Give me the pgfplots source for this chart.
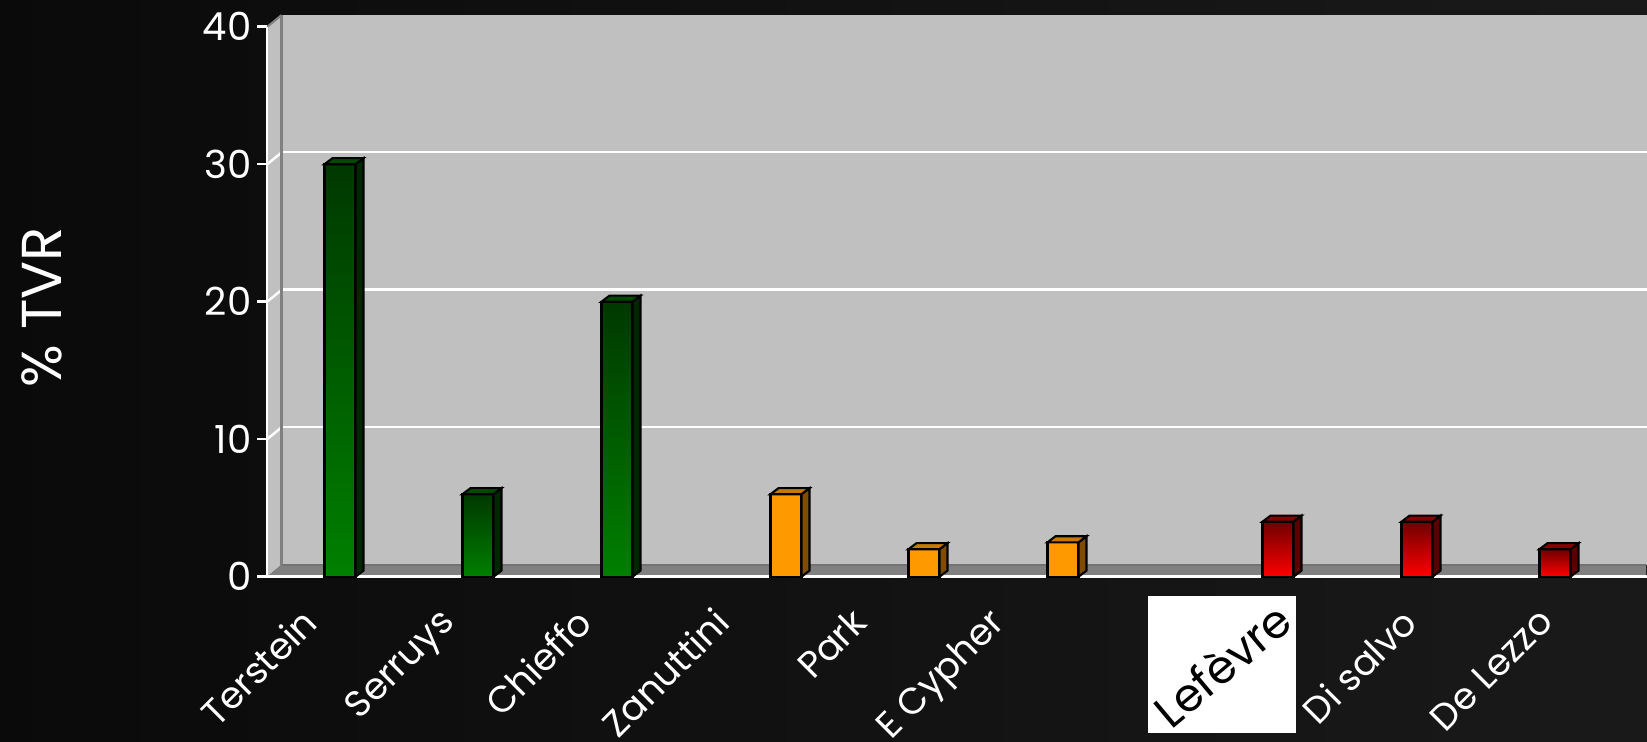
\documentclass[border=0pt]{standalone}
\usepackage{pgfplots}
\pgfplotsset{compat=1.18}
\usepackage{fontspec}
\setmainfont{Poppins}
\definecolor{wall}{HTML}{C0C0C0}
\definecolor{floorc}{HTML}{808080}
\definecolor{gtop}{HTML}{003800}
\definecolor{gbot}{HTML}{008000}
\definecolor{gside}{HTML}{002800}
\definecolor{gcap}{HTML}{004A00}
\definecolor{ofront}{HTML}{FF9900}
\definecolor{oside}{HTML}{7F4C00}
\definecolor{ocap}{HTML}{C87800}
\definecolor{rtop}{HTML}{700000}
\definecolor{rbot}{HTML}{FF0000}
\definecolor{rside}{HTML}{5A0000}
\definecolor{rcap}{HTML}{8A0000}
\pgfplotsset{
  frontbar/.style={ybar, bar width=31, bar shift=0pt, draw=black, line width=0.6pt},
  gbar/.style={frontbar, top color=gtop, bottom color=gbot},
  rbar/.style={frontbar, top color=rtop, bottom color=rbot},
  face/.style={draw=black, line width=0.6pt, fill=#1}
}
\begin{document}
\begin{tikzpicture}
\useasboundingbox (0,0) rectangle (16.47cm,7.41cm);
\begin{scope}
\clip (0,0) rectangle (16.47cm,7.41cm);
\fill[left color=black!96, right color=black!90] (0,0) rectangle (16.47cm,7.41cm);
% back wall with grid
\begin{axis}[at={(2.817cm,1.763cm)}, anchor=south west, scale only axis,
  width=13.653cm, height=5.5cm, xmin=0, xmax=1, ymin=0, ymax=40,
  axis background/.style={fill=wall}, axis line style={draw=none},
  xtick=\empty, ytick={10,20,30}, yticklabels={}, ymajorgrids,
  grid style={white, line width=0.7pt}, major tick length=0pt]
\addplot[draw=none] coordinates {(0,0)};
\end{axis}
\begin{scope}[x=0.01cm, y=0.01cm]
\fill[wall] (267,164.3) -- (281.7,176.3) -- (281.7,726.3) -- (267,714.3) -- cycle;
\foreach \k in {1,2,3} \draw[white, line width=0.7pt] (267,{164.3+137.5*\k}) -- (281.7,{176.3+137.5*\k});
\draw[floorc, line width=0.6pt] (267,714.3) -- (281.7,726.3);
\draw[floorc, line width=0.8pt] (281.7,176.3) -- (281.7,726.3);
\fill[floorc] (267,164.3) -- (281.7,176.3) -- (1647,176.3) -- (1647,164.3) -- cycle;
\draw[black!55, line width=0.5pt] (281.7,176.3) -- (1647,176.3);
\end{scope}
% front axis with bars
\begin{axis}[at={(2.67cm,1.643cm)}, anchor=south west, scale only axis,
  width=13.8cm, height=5.5cm, xmin=0, xmax=1380, ymin=0, ymax=40,
  axis lines=left, axis line style={white, line width=0.7pt, -},
  ytick={0,10,20,30,40}, ytick style={white, line width=0.7pt},
  tick align=outside, major tick length=1mm,
  xtick={68.75,206.25,343.75,481.25,618.75,756.25,893.75,1031.25,1168.75,1306.25},
  xticklabels={Terstein,Serruys,Chieffo,Zanuttini,Park,E Cypher,{},{},Di salvo,De Lezzo},
  xtick style={draw=none},
  /pgf/number format/assume math mode=true,
  tick label style={text=white},
  yticklabel style={font=\fontsize{11}{13}\selectfont, anchor=east, inner sep=0pt, xshift=-0.5mm},
  xticklabel style={font=\fontsize{10.5}{12}\selectfont, inner sep=0pt, xshift=-3.6mm, yshift=-1.8mm, rotate=45, anchor=north east},
  ylabel={\% TVR},
  ylabel style={font=\fontsize{16}{19}\selectfont, text=white, at={(-0.163,0.49)}, anchor=center},
  clip=false]
% front faces, one plot per bar so that each bar gets its own gradient
\addplot[gbar] coordinates {(73,30)};
\addplot[gbar] coordinates {(211,6)};
\addplot[gbar] coordinates {(350,20)};
\addplot[frontbar, fill=ofront] coordinates {(519,6) (657,2) (796,2.5)};
\addplot[rbar] coordinates {(1011,4)};
\addplot[rbar] coordinates {(1150,4)};
\addplot[rbar] coordinates {(1288,2)};
% side and top faces
\addplot[face=gside] coordinates {(88.5,0) (96.5,0.44) (96.5,30.44) (88.5,30)} -- cycle;
\addplot[face=gcap] coordinates {(57.5,30) (65.5,30.44) (96.5,30.44) (88.5,30)} -- cycle;
\addplot[face=gside] coordinates {(226.5,0) (234.5,0.44) (234.5,6.44) (226.5,6)} -- cycle;
\addplot[face=gcap] coordinates {(195.5,6) (203.5,6.44) (234.5,6.44) (226.5,6)} -- cycle;
\addplot[face=gside] coordinates {(365.5,0) (373.5,0.44) (373.5,20.44) (365.5,20)} -- cycle;
\addplot[face=gcap] coordinates {(334.5,20) (342.5,20.44) (373.5,20.44) (365.5,20)} -- cycle;
\addplot[face=oside] coordinates {(534.5,0) (542.5,0.44) (542.5,6.44) (534.5,6)} -- cycle;
\addplot[face=ocap] coordinates {(503.5,6) (511.5,6.44) (542.5,6.44) (534.5,6)} -- cycle;
\addplot[face=oside] coordinates {(672.5,0) (680.5,0.44) (680.5,2.44) (672.5,2)} -- cycle;
\addplot[face=ocap] coordinates {(641.5,2) (649.5,2.44) (680.5,2.44) (672.5,2)} -- cycle;
\addplot[face=oside] coordinates {(811.5,0) (819.5,0.44) (819.5,2.94) (811.5,2.5)} -- cycle;
\addplot[face=ocap] coordinates {(780.5,2.5) (788.5,2.94) (819.5,2.94) (811.5,2.5)} -- cycle;
\addplot[face=rside] coordinates {(1026.5,0) (1034.5,0.44) (1034.5,4.44) (1026.5,4)} -- cycle;
\addplot[face=rcap] coordinates {(995.5,4) (1003.5,4.44) (1034.5,4.44) (1026.5,4)} -- cycle;
\addplot[face=rside] coordinates {(1165.5,0) (1173.5,0.44) (1173.5,4.44) (1165.5,4)} -- cycle;
\addplot[face=rcap] coordinates {(1134.5,4) (1142.5,4.44) (1173.5,4.44) (1165.5,4)} -- cycle;
\addplot[face=rside] coordinates {(1303.5,0) (1311.5,0.44) (1311.5,2.44) (1303.5,2)} -- cycle;
\addplot[face=rcap] coordinates {(1272.5,2) (1280.5,2.44) (1311.5,2.44) (1303.5,2)} -- cycle;
\end{axis}
\node[fill=white, inner sep=0pt, minimum width=1.44cm, minimum height=1.37cm] at (12.22cm,0.765cm)
  {\rotatebox{40}{\fontsize{13}{13}\selectfont\color{black}Lefèvre}};
\end{scope}
\end{tikzpicture}
\end{document}
